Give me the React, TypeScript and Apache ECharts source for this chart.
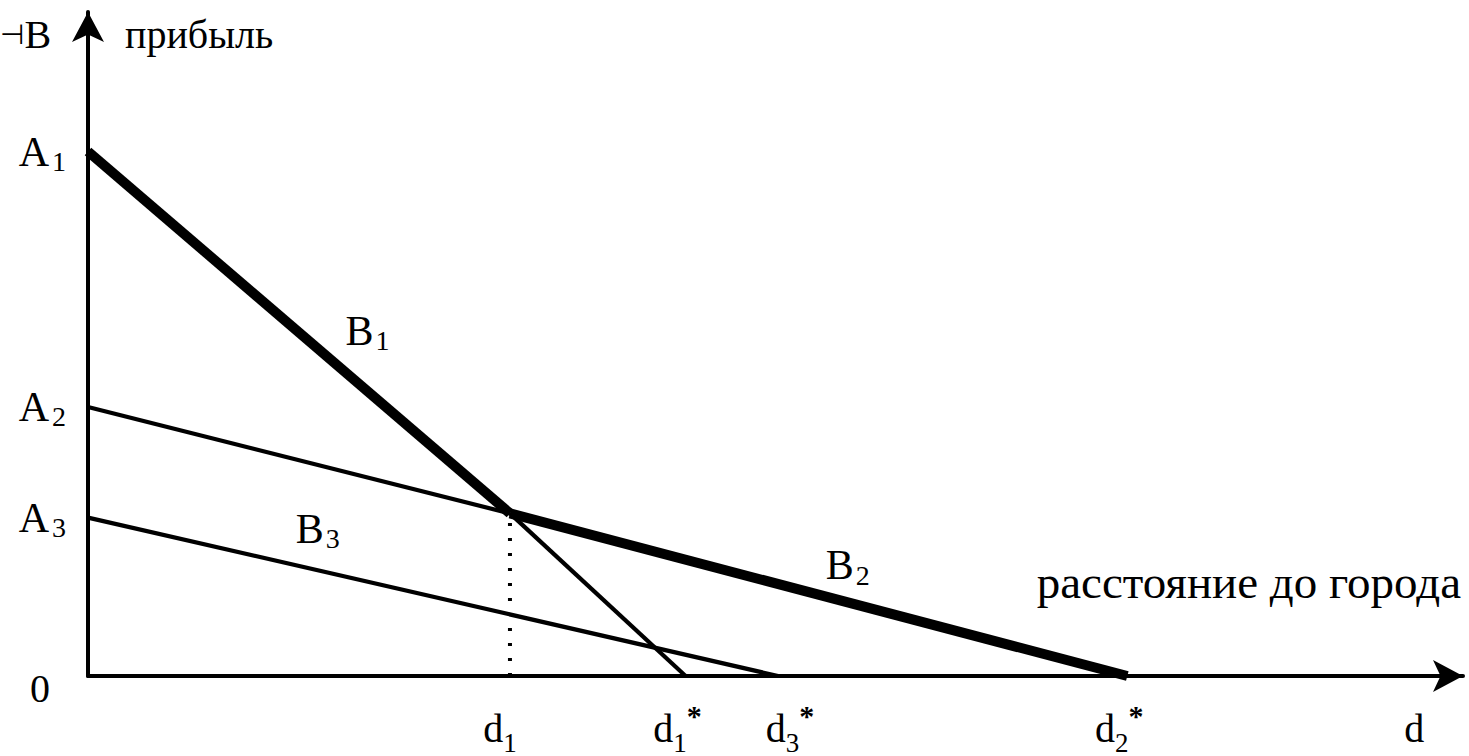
import React, { useEffect, useRef } from "react";
import * as echarts from "echarts";

// ---- data (units) ----
const distanceTicks = [40.6, 57.5, 66.4, 100, 127.6];
const distanceTickMain = ["d", "d", "d", "d", "d"];
const distanceTickSub = ["1", "1", "3", "2", ""];
const distanceTickStar = ["", "*", "*", "*", ""];

const profitTicks = [0, 30.2, 51.3, 100];
const profitTickMain = ["0", "A", "A", "A"];
const profitTickSub = ["", "3", "2", "1"];

const b1Thick = [[0, 100], [40.6, 31]];
const b1Thin = [[40.6, 31], [57.5, 0]];
const b2Thin = [[0, 51.3], [40.6, 31]];
const b2Thick = [[40.6, 31], [100, 0]];
const b3Line = [[0, 30.2], [66.4, 0]];
const dottedLine = [[40.6, 0], [40.6, 31]];

const curveNames = ["B", "B", "B"];
const curveSubs = ["1", "3", "2"];
const curveLabelAt = [[26.9, 65.8], [22.1, 28.1], [73.1, 21.1]];

const xAxisName = "расстояние до города";
const yAxisName = "прибыль";
const cornerMark = "⊣";
const cornerLetter = "В";

// layout-only: horizontal nudges (px) of the distance labels
const distanceLabelNudge = [-10, -8, 12, -8, 0];

const FONT = "'Liberation Serif', 'DejaVu Serif', serif";

function nearestIndex(arr: number[], v: number) {
  let best = 0;
  for (let i = 1; i < arr.length; i++) {
    if (Math.abs(arr[i] - v) < Math.abs(arr[best] - v)) best = i;
  }
  return best;
}

export default function App() {
  const ref = useRef<HTMLDivElement>(null);
  useEffect(() => {
    if (!ref.current) return;
    const chart = echarts.init(ref.current, null, { renderer: "svg" });
    const thin = 4.2;
    const thick = 10;
    const black = "#000";
    const lineSeries = (data: number[][], width: number, type: any = "solid") => ({
      type: "line",
      data,
      symbol: "none",
      silent: true,
      lineStyle: { color: black, width, type, cap: "butt" },
      z: 3,
    });

    const xRich: any = {
      m: { fontFamily: FONT, fontSize: 40, lineHeight: 56, color: black, verticalAlign: "middle" },
      s: { fontFamily: FONT, fontSize: 27, lineHeight: 40, color: black, verticalAlign: "bottom" },
      t: { fontFamily: FONT, fontSize: 30, fontWeight: "bold", lineHeight: 30, color: black, verticalAlign: "top" },
    };
    distanceLabelNudge.forEach((n, i) => {
      xRich["g" + i] = { fontSize: 4, width: Math.max(1, Math.abs(2 * n)), lineHeight: 10 };
    });

    chart.setOption({
      animation: false,
      backgroundColor: "#fff",
      grid: { left: 88, right: 6, top: 12, bottom: 78, containLabel: false },
      xAxis: {
        type: "value",
        min: 0,
        max: 132.3,
        axisLine: {
          show: true,
          onZero: false,
          symbol: ["none", "arrow"],
          symbolSize: [24, 30],
          lineStyle: { color: black, width: 4 },
        },
        axisTick: { show: false },
        splitLine: { show: false },
        axisLabel: {
          show: true,
          customValues: distanceTicks,
          hideOverlap: false,
          margin: 24,
          color: black,
          formatter: (v: number) => {
            const i = nearestIndex(distanceTicks, v);
            let s = `{m|${distanceTickMain[i]}}`;
            if (distanceTickSub[i]) s += `{s|${distanceTickSub[i]}}`;
            if (distanceTickStar[i]) s += `{t|${distanceTickStar[i]}}`;
            const n = distanceLabelNudge[i];
            if (n > 0) s = `{g${i}| }` + s;
            else if (n < 0) s = s + `{g${i}| }`;
            return s;
          },
          rich: xRich,
        },
      },
      yAxis: {
        type: "value",
        min: 0,
        max: 126.6,
        name: yAxisName,
        nameLocation: "end",
        nameGap: -22,
        nameTextStyle: {
          fontFamily: FONT,
          fontSize: 40,
          color: black,
          align: "left",
          verticalAlign: "middle",
          padding: [0, 0, 0, 37],
        },
        axisLine: {
          show: true,
          onZero: false,
          symbol: ["none", "arrow"],
          symbolSize: [24, 30],
          lineStyle: { color: black, width: 4 },
        },
        axisTick: { show: false },
        splitLine: { show: false },
        axisLabel: {
          show: true,
          customValues: profitTicks,
          hideOverlap: false,
          margin: 22,
          color: black,
          formatter: (v: number) => {
            const i = nearestIndex(profitTicks, v);
            if (!profitTickSub[i]) return `{z|${profitTickMain[i]}}`;
            return `{m|${profitTickMain[i]}}{s|${profitTickSub[i]}}`;
          },
          rich: {
            m: { fontFamily: FONT, fontSize: 42, lineHeight: 48, color: black, verticalAlign: "middle" },
            s: { fontFamily: FONT, fontSize: 28, lineHeight: 38, color: black, verticalAlign: "bottom", padding: [0, 0, 0, 3] },
            z: { fontFamily: FONT, fontSize: 40, lineHeight: 48, color: black, padding: [24, 16, 0, 0] },
          },
        },
      },
      graphic: [
        {
          type: "text",
          left: 0,
          top: 14,
          style: {
            text: `{a|${cornerMark}}{b|${cornerLetter}}`,
            rich: {
              a: { fontFamily: "'DejaVu Sans', sans-serif", fontSize: 28, lineHeight: 46, fill: black, verticalAlign: "middle" },
              b: { fontFamily: FONT, fontSize: 40, lineHeight: 46, fill: black, verticalAlign: "middle" },
            },
          },
        },
        {
          type: "text",
          right: 8,
          top: 558,
          style: { text: xAxisName, font: `47px ${FONT}`, fill: black },
        },
      ],
      series: [
        lineSeries(b1Thick, thick),
        lineSeries(b1Thin, thin),
        lineSeries(b2Thin, thin),
        lineSeries(b2Thick, thick),
        lineSeries(b3Line, thin),
        lineSeries(dottedLine, 4, [3, 12]),
        {
          type: "scatter",
          silent: true,
          symbolSize: 0,
          itemStyle: { opacity: 1, color: black },
          data: curveLabelAt.map((p, i) => ({ value: p, name: curveNames[i] + curveSubs[i] })),
          label: {
            show: true,
            position: "inside",
            color: black,
            opacity: 1,
            textBorderWidth: 0,
            formatter: (p: any) => `{m|${curveNames[p.dataIndex]}}{s|${curveSubs[p.dataIndex]}}`,
            rich: {
              m: { fontFamily: FONT, fontSize: 42, lineHeight: 48, color: black, textBorderWidth: 0, verticalAlign: "middle" },
              s: { fontFamily: FONT, fontSize: 28, lineHeight: 38, color: black, textBorderWidth: 0, verticalAlign: "bottom", padding: [0, 0, 0, 2] },
            },
          },
        },
      ],
    });
    return () => chart.dispose();
  }, []);
  return (
    <div
      ref={ref}
      style={{ position: "absolute", left: 0, top: 0, width: 1469, height: 756, background: "#fff" }}
    />
  );
}
